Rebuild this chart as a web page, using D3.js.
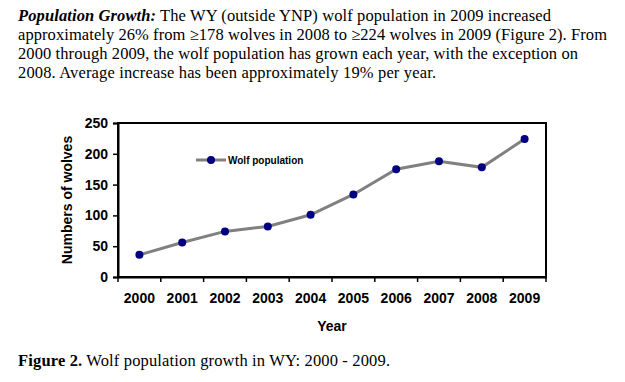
<!DOCTYPE html>
<meta charset="utf-8">
<script src="https://d3js.org/d3.v7.min.js"></script>
<style>
  body { margin: 0; background: #fff; }
  text { fill: #000; }
</style>
<body>
<svg width="625" height="382"></svg>
<script>
// data
var years = ["2000", "2001", "2002", "2003", "2004", "2005", "2006", "2007", "2008", "2009"];
var wolves = [36, 56, 74, 82, 101, 134, 175, 188, 178, 224];
var yTicks = [0, 50, 100, 150, 200, 250];

var svg = d3.select("svg");

// paragraph above the chart
var lines = [
  [{t: "Population Growth:", s: "italic", w: "bold"}, {t: " The WY (outside YNP) wolf population in 2009 increased"}],
  [{t: "approximately 26% from \u2265178 wolves in 2008 to \u2265224 wolves in 2009 (Figure 2). From"}],
  [{t: "2000 through 2009, the wolf population has grown each year, with the exception on"}],
  [{t: "2008. Average increase has been approximately 19% per year."}]
];
var lineEnds = [551, 607, 578, 436];

lines.forEach(function(parts, i) {
  var row = svg.append("text")
      .attr("x", 18)
      .attr("y", 21 + i * 19)
      .attr("font-family", "'Liberation Serif', 'Times New Roman', serif")
      .attr("font-size", 16.5)
      .attr("textLength", lineEnds[i] - 18)
      .attr("lengthAdjust", "spacing");
  parts.forEach(function(p) {
    var ts = row.append("tspan").text(p.t);
    if (p.s) ts.attr("font-style", p.s);
    if (p.w) ts.attr("font-weight", p.w);
  });
});

// chart area
var margin = {left: 118, top: 123, right: 546, bottom: 277};

var x = d3.scaleBand()
    .domain(years)
    .range([margin.left, margin.right]);

var y = d3.scaleLinear()
    .domain([0, 250])
    .range([margin.bottom, margin.top]);

// plot frame
svg.append("rect")
    .attr("x", margin.left)
    .attr("y", margin.top)
    .attr("width", margin.right - margin.left)
    .attr("height", margin.bottom - margin.top)
    .attr("fill", "none")
    .attr("stroke", "#000")
    .attr("stroke-width", 2);

var xAxis = svg.append("g")
    .attr("transform", "translate(0," + margin.bottom + ")")
    .call(d3.axisBottom(x).tickSize(0).tickPadding(16));
xAxis.select(".domain").attr("stroke-width", 2);
xAxis.selectAll("text")
    .attr("font-family", "Arial, 'Liberation Sans', sans-serif")
    .attr("font-size", 14)
    .attr("font-weight", "bold");

// tick marks between categories
svg.append("g")
    .selectAll("line")
    .data(years.concat(["end"]))
    .enter().append("line")
    .attr("x1", function(d, i) { return i < years.length ? x(d) : margin.right; })
    .attr("x2", function(d, i) { return i < years.length ? x(d) : margin.right; })
    .attr("y1", margin.bottom)
    .attr("y2", margin.bottom + 5)
    .attr("stroke", "#000")
    .attr("stroke-width", 1.5);

var yAxis = svg.append("g")
    .attr("transform", "translate(" + margin.left + ",0)")
    .call(d3.axisLeft(y).tickValues(yTicks).tickSize(5).tickPadding(5));
yAxis.select(".domain").attr("stroke-width", 2);
yAxis.selectAll(".tick line").attr("stroke-width", 1.5);
yAxis.selectAll("text")
    .attr("font-family", "Arial, 'Liberation Sans', sans-serif")
    .attr("font-size", 14)
    .attr("font-weight", "bold");

// axis titles
svg.append("text")
    .attr("transform", "translate(72,200) rotate(-90)")
    .attr("text-anchor", "middle")
    .attr("font-family", "Arial, 'Liberation Sans', sans-serif")
    .attr("font-size", 14)
    .attr("font-weight", "bold")
    .text("Numbers of wolves");

svg.append("text")
    .attr("x", (margin.left + margin.right) / 2)
    .attr("y", 331)
    .attr("text-anchor", "middle")
    .attr("font-family", "Arial, 'Liberation Sans', sans-serif")
    .attr("font-size", 14)
    .attr("font-weight", "bold")
    .text("Year");

// series
var line = d3.line()
    .x(function(d, i) { return x(years[i]) + x.bandwidth() / 2; })
    .y(function(d) { return y(d); });

svg.append("path")
    .datum(wolves)
    .attr("d", line)
    .attr("fill", "none")
    .attr("stroke", "#808080")
    .attr("stroke-width", 3);

svg.append("g")
    .selectAll("circle")
    .data(wolves)
    .enter().append("circle")
    .attr("cx", function(d, i) { return x(years[i]) + x.bandwidth() / 2; })
    .attr("cy", function(d) { return y(d); })
    .attr("r", 4)
    .attr("fill", "#000080");

// legend
var legend = svg.append("g").attr("transform", "translate(196,160)");
legend.append("line")
    .attr("x1", 0).attr("x2", 30)
    .attr("stroke", "#808080")
    .attr("stroke-width", 3);
legend.append("circle")
    .attr("cx", 15)
    .attr("r", 4)
    .attr("fill", "#000080");
legend.append("text")
    .attr("x", 32)
    .attr("dy", "0.35em")
    .attr("font-family", "Arial, 'Liberation Sans', sans-serif")
    .attr("font-size", 10)
    .attr("font-weight", "bold")
    .text("Wolf population");

// caption
var cap = svg.append("text")
    .attr("x", 18)
    .attr("y", 366)
    .attr("font-family", "'Liberation Serif', 'Times New Roman', serif")
    .attr("font-size", 16.5)
    .attr("textLength", 372)
    .attr("lengthAdjust", "spacing");
cap.append("tspan").attr("font-weight", "bold").text("Figure 2.");
cap.append("tspan").text(" Wolf population growth in WY: 2000 - 2009.");
</script>
</body>
